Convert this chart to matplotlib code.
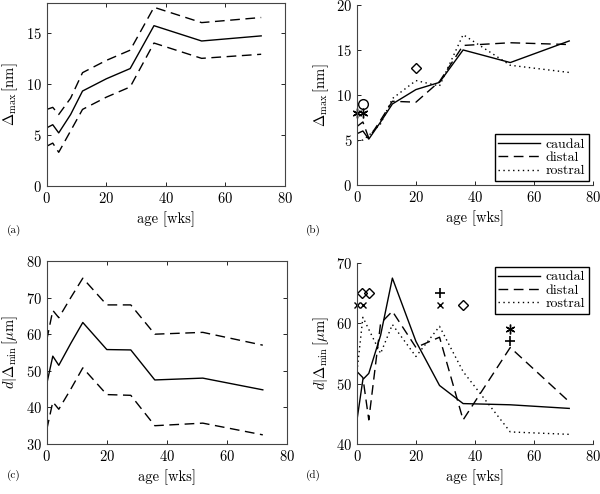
import numpy as np
import matplotlib
matplotlib.use('Agg')
import matplotlib.pyplot as plt

plt.rcParams['font.family'] = 'serif'
plt.rcParams['font.serif'] = ['cmr10', 'DejaVu Serif']
plt.rcParams['mathtext.fontset'] = 'cm'
plt.rcParams['axes.formatter.use_mathtext'] = True
plt.rcParams['font.size'] = 10.5

age = [0, 2, 4, 8, 12, 20, 28, 36, 52, 72]

# (a) Delta_max, mean and bounds
a_mean = [5.7, 6.0, 5.2, 7.0, 9.3, 10.5, 11.5, 15.7, 14.2, 14.7]
a_upper = [7.5, 7.7, 7.0, 8.6, 11.1, 12.3, 13.3, 17.5, 16.0, 16.5]
a_lower = [3.9, 4.2, 3.3, 5.4, 7.5, 8.7, 9.7, 14.0, 12.5, 12.9]

# (b) Delta_max per region
b_caudal = [5.7, 6.0, 5.1, 7.0, 9.0, 10.6, 11.4, 15.0, 13.6, 16.0]
b_distal = [6.5, 7.0, 5.2, 7.2, 9.3, 9.2, 11.5, 15.5, 15.8, 15.6]
b_rostral = [4.9, 5.0, 5.5, 6.8, 9.6, 11.6, 11.0, 16.7, 13.3, 12.5]
b_star_x, b_star_y = [0, 2], [8, 8]
b_circ_x, b_circ_y = [2], [9]
b_diam_x, b_diam_y = [20], [13]

# (c) d|Delta_min, mean and bounds
c_mean = [46.5, 54.0, 51.5, 57.5, 63.2, 55.8, 55.7, 47.5, 48.0, 44.8]
c_upper = [58.5, 66.5, 64.5, 70.0, 75.3, 68.0, 68.0, 60.0, 60.5, 57.0]
c_lower = [34.0, 41.5, 39.5, 45.0, 50.8, 43.5, 43.3, 35.0, 35.7, 32.5]

# (d) d|Delta_min per region
d_caudal = [44.0, 50.7, 51.7, 58.0, 67.5, 57.0, 49.7, 46.7, 46.5, 45.9]
d_distal = [52.0, 51.0, 44.0, 60.0, 62.0, 56.0, 57.7, 44.0, 56.0, 47.0]
d_rostral = [52.0, 61.0, 59.0, 55.0, 59.8, 54.5, 59.5, 52.0, 42.0, 41.6]
d_x_x, d_x_y = [0, 2, 28], [63, 63, 63]
d_diam_x, d_diam_y = [1.6, 4, 36], [65, 65, 63]
d_plus_x, d_plus_y = [28, 52], [65, 57]
d_star_x, d_star_y = [52], [59]

dash = (0, (7, 4))
dot = (0, (1, 2.5))
lw = 1.0

fig = plt.figure(figsize=(6, 4.94), dpi=100)
axa = fig.add_axes([0.078, 0.6235, 0.397, 0.37])
axb = fig.add_axes([0.595, 0.6255, 0.393, 0.3645])
axc = fig.add_axes([0.078, 0.1012, 0.40, 0.3705])
axd = fig.add_axes([0.595, 0.1012, 0.393, 0.3664])


def style(ax, box):
    ax.tick_params(direction='in', length=3, width=0.6, top=box, right=box)
    for s in ax.spines.values():
        s.set_linewidth(0.8)
        s.set_color('#444444')
    if not box:
        ax.spines['top'].set_visible(False)
        ax.spines['right'].set_visible(False)
    ax.set_xlim(0, 80)
    ax.set_xticks([0, 20, 40, 60, 80])
    ax.set_xlabel('age [wks]')


def add_legend(ax, loc):
    ax.legend(loc=loc, fontsize=10, handlelength=3.0, fancybox=False,
              edgecolor='k', framealpha=1, borderpad=0.25, labelspacing=0.05,
              handletextpad=0.4, borderaxespad=0.3)


axa.plot(age, a_mean, 'k-', lw=lw)
axa.plot(age, a_upper, 'k', ls=dash, lw=lw)
axa.plot(age, a_lower, 'k', ls=dash, lw=lw)
axa.set_ylim(0, 17.9)
axa.set_yticks([0, 5, 10, 15])
axa.set_ylabel(r'$\Delta_{\max}\,[\mathrm{nm}]$')
style(axa, True)

axb.plot(age, b_caudal, 'k-', lw=lw, label='caudal')
axb.plot(age, b_distal, 'k', ls=dash, lw=lw, label='distal')
axb.plot(age, b_rostral, 'k', ls=dot, lw=lw, label='rostral')
axb.plot(b_star_x, b_star_y, ls='none', marker=(6, 2, 0), ms=7, color='k',
         mew=1, clip_on=False)
axb.plot(b_circ_x, b_circ_y, ls='none', marker='o', ms=7, mfc='none', mec='k',
         mew=1, clip_on=False)
axb.plot(b_diam_x, b_diam_y, ls='none', marker='D', ms=5.5, mfc='none',
         mec='k', mew=1)
axb.set_ylim(0, 20)
axb.set_yticks([0, 5, 10, 15, 20])
axb.set_ylabel(r'$\Delta_{\max}\,[\mathrm{nm}]$')
add_legend(axb, 'lower right')
style(axb, False)

axc.plot(age, c_mean, 'k-', lw=lw)
axc.plot(age, c_upper, 'k', ls=dash, lw=lw)
axc.plot(age, c_lower, 'k', ls=dash, lw=lw)
axc.set_ylim(30, 80)
axc.set_yticks([30, 40, 50, 60, 70, 80])
axc.set_ylabel(r'$d|\Delta_{\min}\,[\mu\mathrm{m}]$')
style(axc, True)

axd.plot(age, d_caudal, 'k-', lw=lw, label='caudal')
axd.plot(age, d_distal, 'k', ls=dash, lw=lw, label='distal')
axd.plot(age, d_rostral, 'k', ls=dot, lw=lw, label='rostral')
axd.plot(d_x_x, d_x_y, ls='none', marker='x', ms=5, color='k', mew=1,
         clip_on=False)
axd.plot(d_diam_x, d_diam_y, ls='none', marker='D', ms=5, mfc='none', mec='k',
         mew=1, clip_on=False)
axd.plot(d_plus_x, d_plus_y, ls='none', marker='+', ms=7, color='k', mew=1.2)
axd.plot(d_star_x, d_star_y, ls='none', marker=(6, 2, 0), ms=7, color='k',
         mew=1)
axd.set_ylim(40, 70)
axd.set_yticks([40, 50, 60, 70])
axd.set_ylabel(r'$d|\Delta_{\min}\,[\mu\mathrm{m}]$')
add_legend(axd, 'upper right')
style(axd, False)

for x, y, t in [(0.012, 0.528, '(a)'), (0.51, 0.528, '(b)'),
                (0.012, 0.032, '(c)'), (0.51, 0.032, '(d)')]:
    fig.text(x, y, t, fontsize=8)

fig.savefig('out.png', dpi=100)
